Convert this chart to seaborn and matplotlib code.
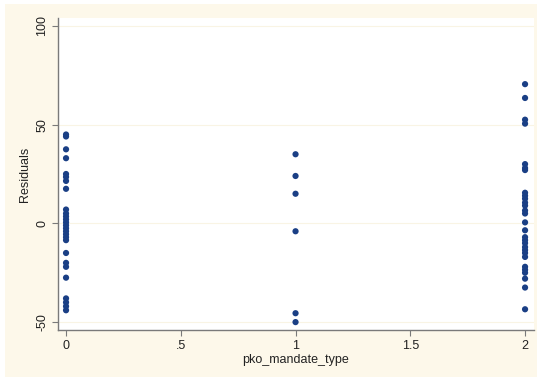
import matplotlib
matplotlib.use("Agg")
import matplotlib.pyplot as plt
import seaborn as sns
import pandas as pd
from matplotlib.patches import Rectangle

# Data
resid_type0 = [45, 44, 37.5, 33, 25, 23.5, 21.5, 17.5, 7, 5, 3.5, 2, 0.5, -1,
               -2.5, -4, -5.5, -7, -8.5, -15, -20, -22, -27.5, -38, -40, -42, -44]
resid_type1 = [35, 24, 15, -4, -45.5, -50]
resid_type2 = [70.5, 63.5, 52.5, 50.5, 30, 28, 27, 15.5, 14, 12.5, 10.5, 9, 6.5, 5,
               0.5, -3.5, -7, -8.5, -10, -12, -13.5, -15, -17, -22, -23.5, -25, -28,
               -32.5, -43.5]
x_ticks = [0, 0.5, 1, 1.5, 2]
x_tick_labels = ["0", ".5", "1", "1.5", "2"]
y_ticks = [-50, 0, 50, 100]
y_tick_labels = ["-50", "0", "50", "100"]

df = pd.DataFrame({
    "pko_mandate_type": [0] * len(resid_type0) + [1] * len(resid_type1) + [2] * len(resid_type2),
    "Residuals": resid_type0 + resid_type1 + resid_type2,
})

sns.set_style("white")
plt.rcParams["font.family"] = ["Liberation Sans", "DejaVu Sans"]

cream = "#fdf8ea"
fig = plt.figure(figsize=(5.43, 3.81), dpi=100, facecolor="white")
bg = Rectangle((5 / 543, 1 - 377 / 381), 532 / 543, 373 / 381,
               transform=fig.transFigure, facecolor=cream, edgecolor="none")
bg.set_zorder(-10)
fig.add_artist(bg)
ax = fig.add_axes([58 / 543, 1 - 330 / 381, 476 / 543, 312 / 381])
ax.set_zorder(5)
ax.set_facecolor("white")

for yv in y_ticks:
    ax.axhline(yv, color="#f9f4e4", lw=0.8, zorder=0)

sns.scatterplot(data=df, x="pko_mandate_type", y="Residuals", ax=ax,
                color="#1a3f85", s=20, edgecolor="none", linewidth=0, zorder=3)

ax.set_xlim(-0.035, 2.039)
ax.set_ylim(-54, 104)
ax.set_xticks(x_ticks)
ax.set_xticklabels(x_tick_labels)
ax.set_yticks(y_ticks)
ax.set_yticklabels(y_tick_labels, rotation=90, va="center")

for s in ["top", "right"]:
    ax.spines[s].set_visible(False)
for s in ["left", "bottom"]:
    ax.spines[s].set_color("#7a7a7a")
    ax.spines[s].set_linewidth(1.0)

ax.tick_params(axis="both", direction="out", length=4, width=0.8, color="#7a7a7a",
               labelsize=9, labelcolor="#222222", pad=3, left=True, bottom=True)
ax.set_xlabel("pko_mandate_type", fontsize=9, color="#222222", labelpad=2)
ax.set_ylabel("Residuals", fontsize=9, color="#222222", labelpad=4)

fig.savefig("out.png", dpi=100, facecolor="white")
